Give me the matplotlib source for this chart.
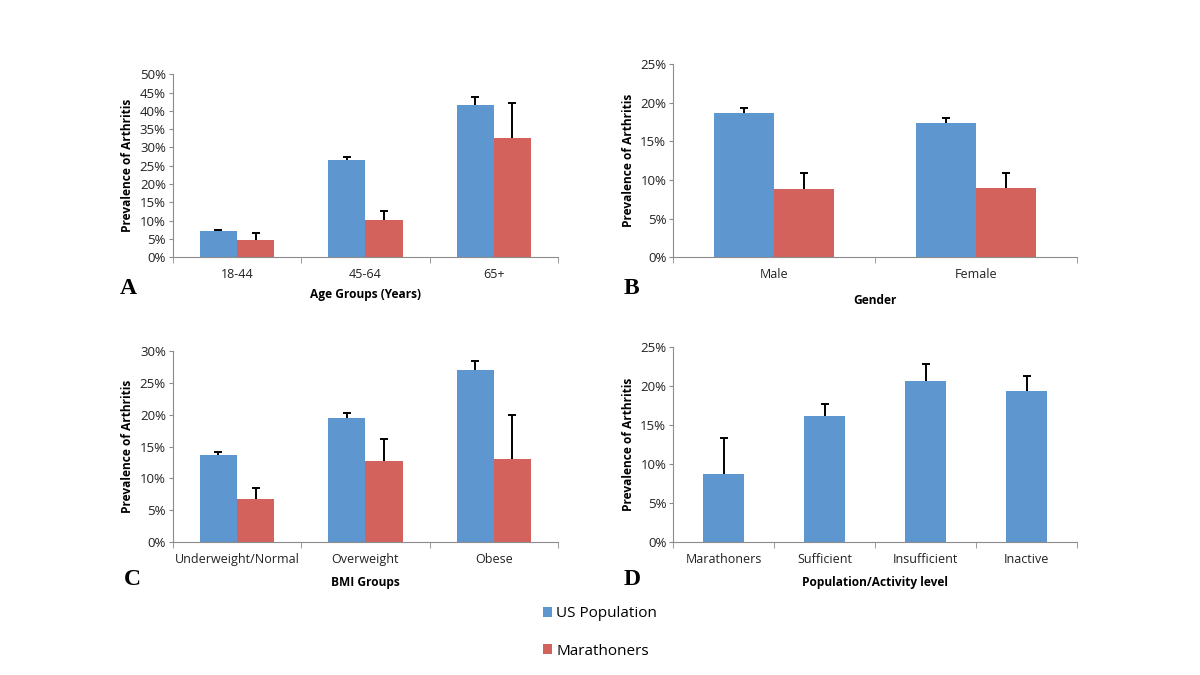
import numpy as np
import matplotlib.pyplot as plt
from matplotlib.ticker import PercentFormatter, FixedLocator

# ---- data (percent) ----
age_groups = ['18-44', '45-64', '65+']
age_us = [7.1, 26.5, 41.7]
age_us_err = [0.4, 0.9, 2.1]
age_mar = [4.8, 10.2, 32.5]
age_mar_err = [1.7, 2.5, 9.7]

genders = ['Male', 'Female']
gen_us = [18.7, 17.4]
gen_us_err = [0.6, 0.6]
gen_mar = [8.8, 9.0]
gen_mar_err = [2.1, 1.9]

bmi_groups = ['Underweight/Normal', 'Overweight', 'Obese']
bmi_us = [13.7, 19.5, 27.0]
bmi_us_err = [0.5, 0.7, 1.4]
bmi_mar = [6.8, 12.8, 13.1]
bmi_mar_err = [1.7, 3.4, 6.9]

activity = ['Marathoners', 'Sufficient', 'Insufficient', 'Inactive']
act_vals = [8.7, 16.1, 20.7, 19.4]
act_err = [4.6, 1.6, 2.1, 1.9]

series_names = ['US Population', 'Marathoners']

BLUE = '#5E96D0'
RED = '#D3625C'
SPINE = '#8c8c8c'
plt.rcParams['font.family'] = ['Open Sans', 'DejaVu Sans']
EKW = dict(ecolor='black', elinewidth=1.4, capsize=3, capthick=1.4)


def style_axis(ax, ncat, ymax, ystep):
    ax.set_xlim(-0.5, ncat - 0.5)
    ax.set_ylim(0, ymax)
    ax.yaxis.set_major_locator(FixedLocator(np.arange(0, ymax + 0.01, ystep)))
    ax.yaxis.set_major_formatter(PercentFormatter(decimals=0))
    ax.set_xticks(range(ncat))
    ax.xaxis.set_minor_locator(FixedLocator(np.arange(-0.5, ncat, 1.0)))
    ax.tick_params(axis='x', which='major', length=0, pad=8, labelsize=9, colors='#222222')
    ax.tick_params(axis='x', which='minor', length=4, color=SPINE)
    ax.tick_params(axis='y', length=3, color=SPINE, labelsize=9.5, colors='#222222', pad=2)
    for s in ['top', 'right']:
        ax.spines[s].set_visible(False)
    for s in ['left', 'bottom']:
        ax.spines[s].set_color(SPINE)
    ax.set_ylabel('Prevalence of Arthritis', fontsize=8.6, fontweight='bold', labelpad=4)


def hide_low_caps(container):
    # only the upper whisker has a cap in the original
    caps = container.errorbar.lines[1]
    if caps:
        caps[0].set_visible(False)


def err_bars(ax, x, vals, errs, w, color, label=None):
    b = ax.bar(x, vals, w, color=color, yerr=[np.zeros(len(vals)), errs], error_kw=EKW, label=label)
    hide_low_caps(b)
    return b


def grouped(ax, cats, us, us_err, mar, mar_err, w):
    x = np.arange(len(cats))
    b1 = err_bars(ax, x - w / 2, us, us_err, w, BLUE, series_names[0])
    b2 = err_bars(ax, x + w / 2, mar, mar_err, w, RED, series_names[1])
    ax.set_xticklabels(cats)
    return b1, b2


fig = plt.figure(figsize=(12, 6.75), dpi=100)
axA = fig.add_axes([0.144, 0.619, 0.321, 0.271])
axB = fig.add_axes([0.561, 0.619, 0.3365, 0.286])
axC = fig.add_axes([0.144, 0.197, 0.321, 0.283])
axD = fig.add_axes([0.561, 0.197, 0.3365, 0.289])

style_axis(axA, 3, 50, 5)
h1, h2 = grouped(axA, age_groups, age_us, age_us_err, age_mar, age_mar_err, 0.29)
axA.set_xlabel('Age Groups (Years)', fontsize=8.6, fontweight='bold', labelpad=5)

style_axis(axB, 2, 25, 5)
grouped(axB, genders, gen_us, gen_us_err, gen_mar, gen_mar_err, 0.297)
axB.set_xlabel('Gender', fontsize=8.6, fontweight='bold', labelpad=9)

style_axis(axC, 3, 30, 5)
grouped(axC, bmi_groups, bmi_us, bmi_us_err, bmi_mar, bmi_mar_err, 0.29)
axC.set_xlabel('BMI Groups', fontsize=8.6, fontweight='bold', labelpad=7)

style_axis(axD, 4, 25, 5)
xd = np.arange(len(activity))
err_bars(axD, xd, act_vals, act_err, 0.41, BLUE)
axD.set_xticklabels(activity)
axD.set_xlabel('Population/Activity level', fontsize=8.6, fontweight='bold', labelpad=7)

# panel letters
for lab, x, y in [('A', 0.100, 0.565), ('B', 0.520, 0.565), ('C', 0.103, 0.134), ('D', 0.520, 0.134)]:
    fig.text(x, y, lab, fontsize=17, fontweight='bold', family='Liberation Serif')

fig.legend([h1, h2], series_names, loc='center', bbox_to_anchor=(0.5, 0.063), frameon=False,
           fontsize=11, handlelength=0.6, handleheight=0.6, handletextpad=0.3, labelspacing=1.45)

fig.savefig('out.png', dpi=100, facecolor='white')
